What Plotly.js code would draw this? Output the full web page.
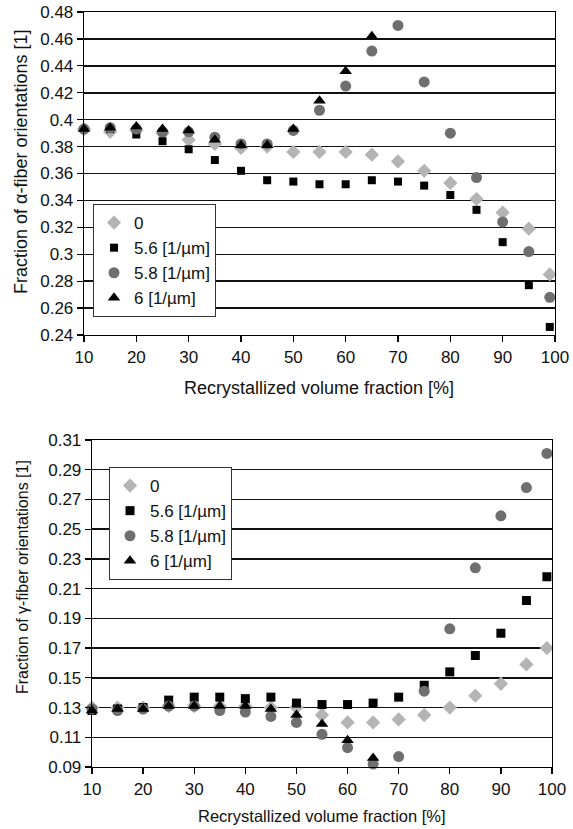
<!DOCTYPE html>
<html>
<head>
<meta charset="utf-8">
<script src="https://cdn.plot.ly/plotly-3.0.1.min.js"></script>
<style>
  html, body { margin: 0; padding: 0; background: #fff; }
  #chart { width: 573px; height: 829px; }
</style>
</head>
<body>
<div id="chart"></div>
<script>
// Recrystallized volume fraction [%]
const fractionA = [10, 15, 20, 25, 30, 35, 40, 45, 50, 55, 60, 65, 70, 75, 80, 85, 90, 95, 99];
const fractionTri = [10, 15, 20, 25, 30, 35, 40, 45, 50, 55, 60, 65];

// Legend labels
const seriesNames = ["0", "5.6 [1/µm]", "5.8 [1/µm]", "6 [1/µm]"];

// α-fiber fraction
const alpha0  = [0.393, 0.391, 0.392, 0.390, 0.385, 0.382, 0.379, 0.380, 0.376, 0.376, 0.376, 0.374, 0.369, 0.362, 0.353, 0.341, 0.331, 0.319, 0.285];
const alpha56 = [0.393, 0.393, 0.389, 0.384, 0.378, 0.370, 0.362, 0.355, 0.354, 0.352, 0.352, 0.355, 0.354, 0.351, 0.344, 0.333, 0.309, 0.277, 0.246];
const alpha58 = [0.393, 0.394, 0.393, 0.391, 0.391, 0.387, 0.382, 0.382, 0.392, 0.407, 0.425, 0.451, 0.470, 0.428, 0.390, 0.357, 0.324, 0.302, 0.268];
const alpha6  = [0.393, 0.394, 0.395, 0.393, 0.392, 0.385, 0.381, 0.381, 0.393, 0.414, 0.436, 0.462];

// γ-fiber fraction
const gamma0  = [0.130, 0.130, 0.130, 0.131, 0.131, 0.131, 0.131, 0.130, 0.130, 0.125, 0.120, 0.120, 0.122, 0.125, 0.130, 0.138, 0.146, 0.159, 0.170];
const gamma56 = [0.128, 0.129, 0.130, 0.135, 0.137, 0.137, 0.136, 0.137, 0.133, 0.132, 0.132, 0.133, 0.137, 0.145, 0.154, 0.165, 0.180, 0.202, 0.218];
const gamma58 = [0.129, 0.128, 0.129, 0.131, 0.131, 0.128, 0.127, 0.124, 0.120, 0.112, 0.103, 0.092, 0.097, 0.141, 0.183, 0.224, 0.259, 0.278, 0.301];
const gamma6  = [0.128, 0.129, 0.129, 0.131, 0.131, 0.131, 0.131, 0.129, 0.125, 0.119, 0.108, 0.096];

// Tick values
const xTicks = [10, 20, 30, 40, 50, 60, 70, 80, 90, 100];
const alphaTicks = [0.24, 0.26, 0.28, 0.30, 0.32, 0.34, 0.36, 0.38, 0.40, 0.42, 0.44, 0.46, 0.48];
const alphaTickText = ["0.24", "0.26", "0.28", "0.3", "0.32", "0.34", "0.36", "0.38", "0.4", "0.42", "0.44", "0.46", "0.48"];
const gammaTicks = [0.09, 0.11, 0.13, 0.15, 0.17, 0.19, 0.21, 0.23, 0.25, 0.27, 0.29, 0.31];

// Axis titles
const xTitle = "Recrystallized volume fraction [%]";
const alphaTitle = "Fraction of α-fiber orientations [1]";
const gammaTitle = "Fraction of γ-fiber orientations [1]";

const W = 573, H = 829;
const FONT = "Liberation Sans, Arial, sans-serif";
const INK = "#111";

const markerStyles = [
  { symbol: "diamond", color: "#b4b4b4", size: 11 },
  { symbol: "square", color: "#000000", size: 8 },
  { symbol: "circle", color: "#6f6f6f", size: 11 },
  { symbol: "triangle-up", color: "#000000", size: 11 }
];
const markerStylesB = [
  { symbol: "diamond", color: "#b4b4b4", size: 11 },
  { symbol: "square", color: "#000000", size: 9 },
  { symbol: "circle", color: "#6f6f6f", size: 11 },
  { symbol: "triangle-up", color: "#000000", size: 11 }
];

function mk(x, y, i, styles, xa, ya, leg) {
  const s = styles[i];
  return {
    x: x, y: y, type: "scatter", mode: "markers",
    name: seriesNames[i],
    xaxis: xa, yaxis: ya, legend: leg, legendgroup: leg + i,
    cliponaxis: false,
    marker: { symbol: s.symbol, color: s.color, size: s.size, line: { width: 0 } }
  };
}

const data = [
  mk(fractionA, alpha0, 0, markerStyles, "x", "y", "legend"),
  mk(fractionA, alpha56, 1, markerStyles, "x", "y", "legend"),
  mk(fractionA, alpha58, 2, markerStyles, "x", "y", "legend"),
  mk(fractionTri, alpha6, 3, markerStyles, "x", "y", "legend"),
  mk(fractionA, gamma0, 0, markerStylesB, "x2", "y2", "legend2"),
  mk(fractionA, gamma56, 1, markerStylesB, "x2", "y2", "legend2"),
  mk(fractionA, gamma58, 2, markerStylesB, "x2", "y2", "legend2"),
  mk(fractionTri, gamma6, 3, markerStylesB, "x2", "y2", "legend2")
];

const xBase = {
  range: [10, 100], tickvals: xTicks, ticks: "outside", ticklen: 6, tickwidth: 1.3,
  tickcolor: "#000", showline: true, linecolor: "#000", linewidth: 1.3, mirror: true,
  showgrid: false, zeroline: false, fixedrange: true,
  tickfont: { family: FONT, size: 17, color: INK }
};
const yBase = {
  ticks: "outside", ticklen: 6, tickwidth: 1.3, tickcolor: "#000",
  showline: true, linecolor: "#000", linewidth: 1.3, mirror: true,
  showgrid: true, gridcolor: "#111", gridwidth: 1.5, zeroline: false, fixedrange: true,
  tickfont: { family: FONT, size: 17, color: INK }
};

const legendBase = {
  xanchor: "left", yanchor: "top", bgcolor: "#fff", bordercolor: "#333", borderwidth: 1,
  font: { family: FONT, size: 17, color: INK },
  traceorder: "grouped", tracegroupgap: 0, itemwidth: 30
};

// Title annotations positioned in pixel terms, converted to paper fractions
function titleAnn(text, cx, cy, size, angle) {
  return {
    text: text, xref: "paper", yref: "paper", x: cx / W, y: 1 - cy / H,
    xanchor: "center", yanchor: "middle", showarrow: false, textangle: angle,
    font: { family: FONT, size: size, color: INK }
  };
}

const layout = {
  width: W, height: H,
  margin: { l: 0, r: 0, t: 0, b: 0 },
  paper_bgcolor: "#fff", plot_bgcolor: "#fff",
  showlegend: true,
  xaxis: Object.assign({}, xBase, { domain: [84 / W, 555 / W], anchor: "y" }),
  yaxis: Object.assign({}, yBase, {
    domain: [1 - 335 / H, 1 - 12 / H], anchor: "x",
    range: [0.24, 0.48], tickvals: alphaTicks, ticktext: alphaTickText
  }),
  xaxis2: Object.assign({}, xBase, { domain: [92 / W, 552 / W], anchor: "y2" }),
  yaxis2: Object.assign({}, yBase, {
    domain: [1 - 767 / H, 1 - 440 / H], anchor: "x2",
    range: [0.09, 0.31], tickvals: gammaTicks, tickformat: ".2f"
  }),
  legend: Object.assign({}, legendBase, { x: 93 / W, y: 1 - 204 / H }),
  legend2: Object.assign({}, legendBase, { x: 109 / W, y: 1 - 467 / H }),
  annotations: [
    titleAnn(xTitle, 319, 388, 18, 0),
    titleAnn(alphaTitle, 21, 162, 18, -90),
    titleAnn(xTitle, 322, 816, 16.5, 0),
    titleAnn(gammaTitle, 22, 577, 16, -90)
  ]
};

Plotly.newPlot("chart", data, layout, { displayModeBar: false, staticPlot: true });
</script>
</body>
</html>
